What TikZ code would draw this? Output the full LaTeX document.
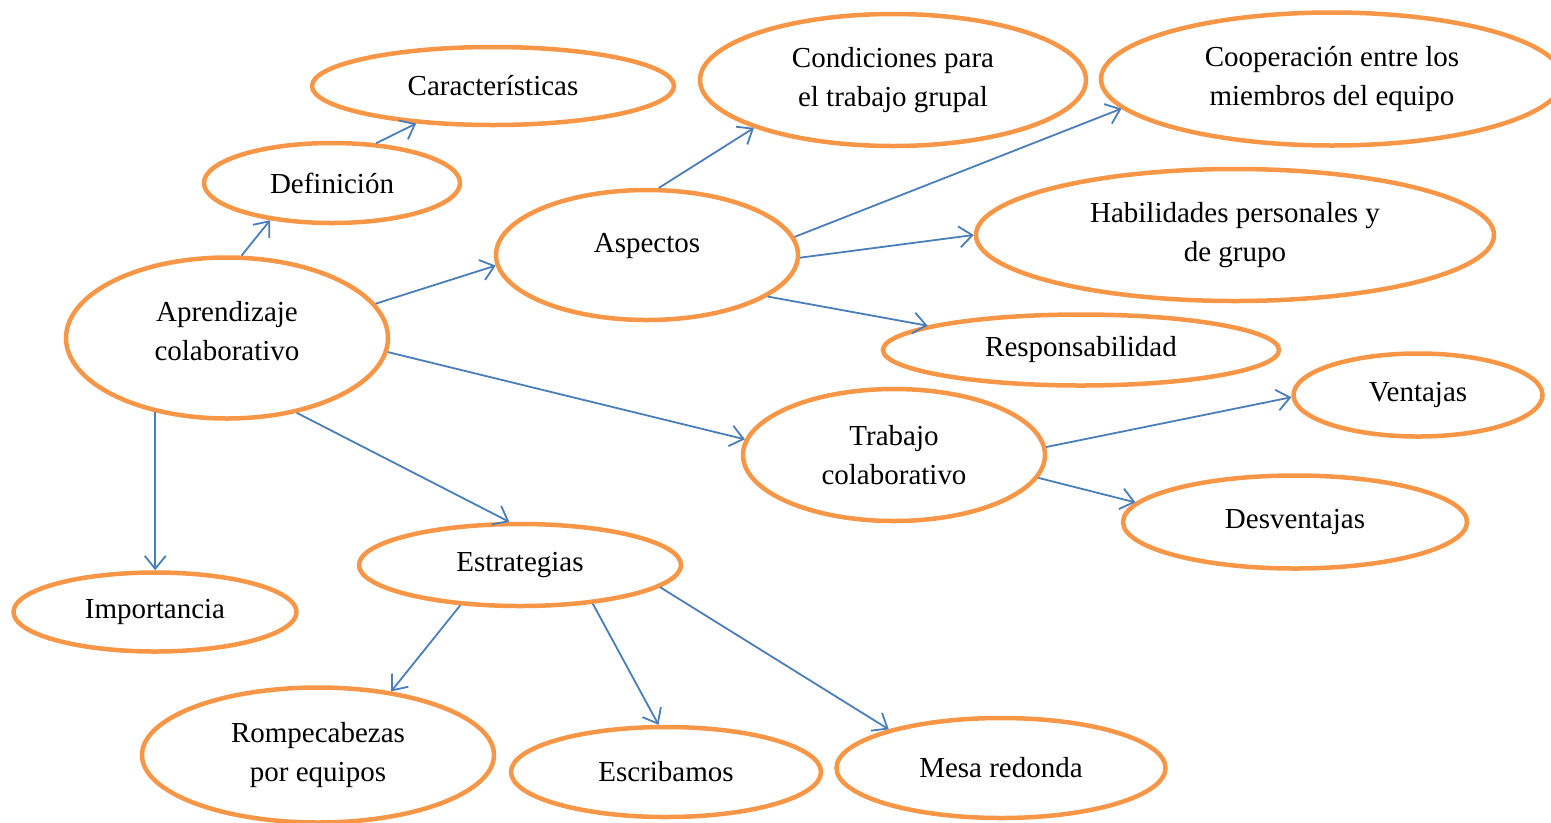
\documentclass[tikz,border=0pt]{standalone}
\usepackage{fontspec}
\setmainfont{Liberation Serif}
\usetikzlibrary{shapes.geometric,arrows.meta}
\definecolor{bubbleorange}{HTML}{F79646}
\definecolor{linkblue}{HTML}{4A7EBB}
\tikzset{
	bubble/.style={ellipse, draw=bubbleorange, line width=0.09cm, inner sep=0pt, align=center, font=\fontsize{16.5}{22.2}\selectfont},
	link/.style={draw=linkblue, line width=0.036cm, -{Straight Barb[length=0.26cm,width=0.42cm]}}
}
\begin{document}
\begin{tikzpicture}
			%%%%% START %%%%%
			
			\useasboundingbox (0, 0) rectangle (31.02, -16.44);
			
			\node[bubble, minimum width=7.24cm, minimum height=1.56cm] (car) at (9.86, -1.72) {Características};
			\node[bubble, minimum width=5.12cm, minimum height=1.6cm] (def) at (6.64, -3.66) {Definición};
			\node[bubble, minimum width=6.44cm, minimum height=3.22cm, text depth=0.3cm] (apr) at (4.54, -6.76) {Aprendizaje\\colaborativo};
			\node[bubble, minimum width=6.04cm, minimum height=2.6cm, text depth=0.48cm] (asp) at (12.94, -5.10) {Aspectos};
			
			\node[bubble, minimum width=7.72cm, minimum height=2.64cm] (con) at (17.86, -1.60) {Condiciones para\\el trabajo grupal};
			\node[bubble, minimum width=9.24cm, minimum height=2.66cm] (coo) at (26.64, -1.58) {Cooperación entre los\\miembros del equipo};
			\node[bubble, minimum width=10.36cm, minimum height=2.64cm] (hab) at (24.70, -4.70) {Habilidades personales y\\de grupo};
			\node[bubble, minimum width=7.92cm, minimum height=1.42cm] (res) at (21.62, -7.00) {Responsabilidad};
			
			\node[bubble, minimum width=6.04cm, minimum height=2.64cm] (tra) at (17.88, -9.10) {Trabajo\\colaborativo};
			\node[bubble, minimum width=4.98cm, minimum height=1.66cm] (ven) at (28.36, -7.90) {Ventajas};
			\node[bubble, minimum width=6.88cm, minimum height=1.86cm] (des) at (25.90, -10.44) {Desventajas};
			
			\node[bubble, minimum width=6.44cm, minimum height=1.64cm] (est) at (10.40, -11.30) {Estrategias};
			\node[bubble, minimum width=5.66cm, minimum height=1.58cm] (imp) at (3.10, -12.24) {Importancia};
			\node[bubble, minimum width=7.04cm, minimum height=2.7cm] (rom) at (6.36, -15.10) {Rompecabezas\\por equipos};
			\node[bubble, minimum width=6.2cm, minimum height=1.8cm] (esc) at (13.32, -15.44) {Escribamos};
			\node[bubble, minimum width=6.58cm, minimum height=2.0cm] (mes) at (20.02, -15.36) {Mesa redonda};
			
			\draw[link] (def.42) -- (car.206);
			\draw[link] (apr.80) -- (def.211);
			\draw[link] (apr.13) -- (asp.184);
			
			\draw[link] (asp.80) -- (con.199);
			\draw[link] (asp.7) -- (coo.188);
			\draw[link] (asp.-1) -- (hab.180);
			\draw[link] (asp.-19) -- (res.171);
			
			\draw[link] (apr.-5) -- (tra.174);
			\draw[link] (tra.3) -- (ven.181);
			\draw[link] (tra.-9) -- (des.173);
			
			\draw[link] (apr.226) -- (apr.226 |- imp.north);
			\draw[link] (apr.-47) -- (est.104);
			\draw[link] (est.214) -- (rom.41);
			\draw[link] (est.-28) -- (esc.99);
			\draw[link] (est.-9) -- (mes.161);
			
			%%%%% END %%%%%
\end{tikzpicture}
\end{document}
